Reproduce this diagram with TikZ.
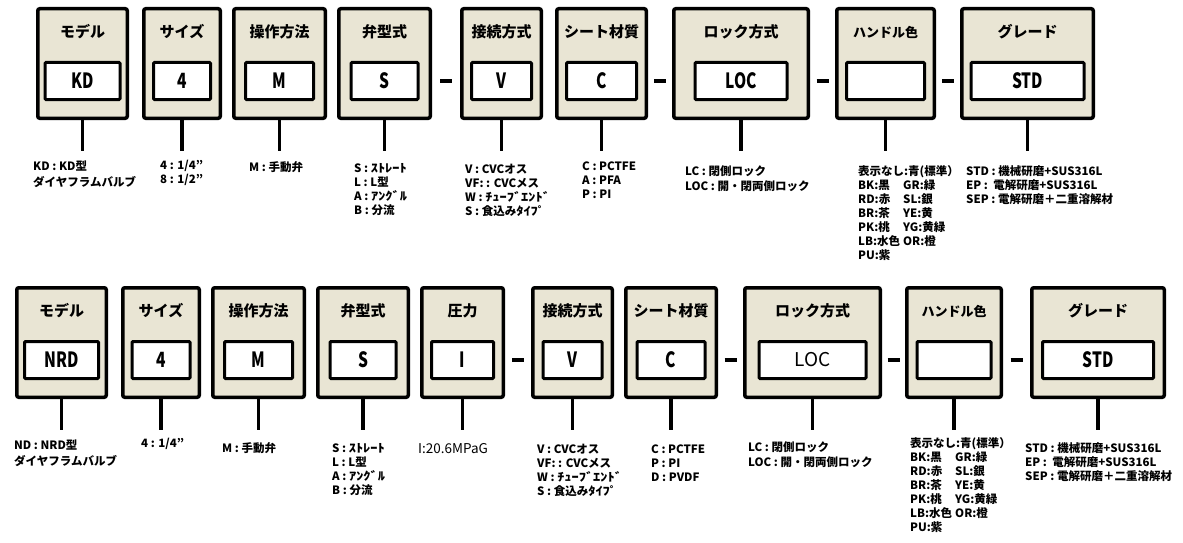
\documentclass[tikz,border=0pt]{standalone}
\usepackage{fontspec}
\setmainfont{Noto Sans CJK JP}
\usetikzlibrary{calc}
\definecolor{beige}{RGB}{233,229,212}
\newcommand\valfont{\fontsize{21}{21}\selectfont}
\newcommand\cnd[1]{\scalebox{0.74}[1]{\bfseries #1}}
\newcommand\hwk[1]{\scalebox{1.25}[1]{#1}}
\tikzset{
  outerbox/.style={draw=black, fill=beige, line width=3.5pt, rounded corners=2pt, inner sep=0pt},
  innerbox/.style={draw=black, fill=white, line width=3pt, rounded corners=1pt, inner sep=0pt, font=\valfont},
  ttl/.style={font=\bfseries\fontsize{15}{15}\selectfont, inner sep=0pt},
  ttlsm/.style={font=\bfseries\fontsize{13}{13}\selectfont, inner sep=0pt},
  stem/.style={line width=3.2pt},
  sepline/.style={line width=3.3pt},
  lbl/.style={font=\bfseries\fontsize{11.5}{14}\selectfont, align=left, anchor=north west, inner sep=0pt},
}
% #1 name, #2 cx, #3 ytop, #4 outer width, #5 inner width, #6 title style, #7 title, #8 value
\newcommand\mkunit[8]{%
  \node[outerbox, minimum width=#4, minimum height=109.5] (#1) at (#2,#3+56.5) {};
  \node[#6] (#1t) at (#2,#3+25) {#7};
  \node[innerbox, minimum width=#5, minimum height=37] (#1v) at (#2,#3+74) {#8};
  \coordinate (#1e) at (#2,#3+144);
  \draw[stem] (#1.south) -- (#1e);
}
\newcommand\sepmark[2]{%
  \draw[sepline] ($(#1.east)!0.5!(#2.west)+(-6,17.5)$) -- +(12,0);
}
\begin{document}
\begin{tikzpicture}[x=1pt,y=-1pt]
\useasboundingbox (0,0) rectangle (1183,543);
% ---------- top row ----------
\mkunit{t1}{82.5}{7}{89.5}{75}{ttl}{モデル}{\cnd{KD}}
\mkunit{t2}{182}{7}{76.5}{57}{ttl}{サイズ}{\cnd{4}}
\mkunit{t3}{279.5}{7}{91.5}{68}{ttl}{操作方法}{\cnd{M}}
\mkunit{t4}{384.5}{7}{91.5}{67}{ttl}{弁型式}{\cnd{S}}
\mkunit{t5}{501.5}{7}{79.5}{60}{ttl}{接続方式}{\cnd{V}}
\mkunit{t6}{601.5}{7}{89.5}{70}{ttl}{シート材質}{\cnd{C}}
\mkunit{t7}{741}{7}{134.5}{92}{ttl}{ロック方式}{\cnd{LOC}}
\mkunit{t8}{885.5}{7}{97.5}{78}{ttlsm}{ハンドル色}{}
\mkunit{t9}{1027.5}{7}{131.5}{113}{ttl}{グレード}{\cnd{STD}}
\sepmark{t4}{t5}
\sepmark{t6}{t7}
\sepmark{t7}{t8}
\sepmark{t8}{t9}
\node[lbl] (t1l) at (33,161) {KD : KD型\\[1.5pt]ダイヤフラムバルブ};
\node[lbl] (t2l) at (160,160) {4 : 1/4"\\8 : 1/2"};
\node[lbl] (t3l) at (249,161.5) {M : 手動弁};
\node[lbl] (t4l) at (354,163.5) {S : \hwk{ｽﾄﾚｰﾄ}\\L : L型\\A : \hwk{ｱﾝｸﾞﾙ}\\B : 分流};
\node[lbl] (t5l) at (465,163.5) {V : CVCオス\\VF: : CVCメス\\W : \hwk{ﾁｭｰﾌﾞｴﾝﾄﾞ}\\S : 食込み\hwk{ﾀｲﾌﾟ}};
\node[lbl] (t6l) at (582,161.5) {C : PCTFE\\A : PFA\\P : PI};
\node[lbl] (t7l) at (685,165) {LC : 閉側ロック\\[1pt]LOC : 開・閉両側ロック};
\node[lbl] (t8l) at (858,165) {表示なし:青(標準）\\
  \makebox[45pt][l]{BK:黒}GR:緑\\
  \makebox[45pt][l]{RD:赤}SL:銀\\
  \makebox[45pt][l]{BR:茶}YE:黄\\
  \makebox[45pt][l]{PK:桃}YG:黄緑\\
  \makebox[45pt][l]{LB:水色}OR:橙\\
  PU:紫};
\node[lbl] (t9l) at (966,165) {STD : 機械研磨+SUS316L\\EP : \ 電解研磨+SUS316L\\SEP : 電解研磨＋二重溶解材};
% ---------- bottom row ----------
\mkunit{b1}{61.5}{286}{89.5}{74}{ttl}{モデル}{\cnd{NRD}}
\mkunit{b2}{161}{286}{76.5}{58}{ttl}{サイズ}{\cnd{4}}
\mkunit{b3}{258.5}{286}{91.5}{68}{ttl}{操作方法}{\cnd{M}}
\mkunit{b4}{363}{286}{90.5}{66}{ttl}{弁型式}{\cnd{S}}
\mkunit{b5}{462.5}{286}{81.5}{62}{ttl}{圧力}{\cnd{I}}
\mkunit{b6}{572.5}{286}{79.5}{59}{ttl}{接続方式}{\cnd{V}}
\mkunit{b7}{671}{286}{90.5}{68}{ttl}{シート材質}{\cnd{C}}
\mkunit{b8}{812.5}{286}{135.5}{107}{ttl}{ロック方式}{\fontsize{19}{19}\selectfont LOC}
\mkunit{b9}{954}{286}{94.5}{74}{ttlsm}{ハンドル色}{}
\mkunit{b10}{1098}{286}{132.5}{111}{ttl}{グレード}{\cnd{STD}}
\sepmark{b5}{b6}
\sepmark{b7}{b8}
\sepmark{b8}{b9}
\sepmark{b9}{b10}
\node[lbl] (b1l) at (14,440) {ND : NRD型\\[1.5pt]ダイヤフラムバルブ};
\node[lbl] (b2l) at (141,437.5) {4 : 1/4"};
\node[lbl] (b3l) at (222,442.5) {M : 手動弁};
\node[lbl] (b4l) at (332,443.5) {S : \hwk{ｽﾄﾚｰﾄ}\\L : L型\\A : \hwk{ｱﾝｸﾞﾙ}\\B : 分流};
\node[lbl] (b5l) at (418,443) {\mdseries\fontsize{13.5}{14}\selectfont I:20.6MPaG};
\node[lbl] (b6l) at (537,443.5) {V : CVCオス\\VF: : CVCメス\\W : \hwk{ﾁｭｰﾌﾞｴﾝﾄﾞ}\\S : 食込み\hwk{ﾀｲﾌﾟ}};
\node[lbl] (b7l) at (651,444.5) {C : PCTFE\\P : PI\\D : PVDF};
\node[lbl] (b8l) at (748,441.5) {LC : 閉側ロック\\[1pt]LOC : 開・閉両側ロック};
\node[lbl] (b9l) at (910,437.5) {表示なし:青(標準）\\
  \makebox[45pt][l]{BK:黒}GR:緑\\
  \makebox[45pt][l]{RD:赤}SL:銀\\
  \makebox[45pt][l]{BR:茶}YE:黄\\
  \makebox[45pt][l]{PK:桃}YG:黄緑\\
  \makebox[45pt][l]{LB:水色}OR:橙\\
  PU:紫};
\node[lbl] (b10l) at (1025,442.5) {STD : 機械研磨+SUS316L\\EP : \ 電解研磨+SUS316L\\SEP : 電解研磨＋二重溶解材};
\end{tikzpicture}
\end{document}
